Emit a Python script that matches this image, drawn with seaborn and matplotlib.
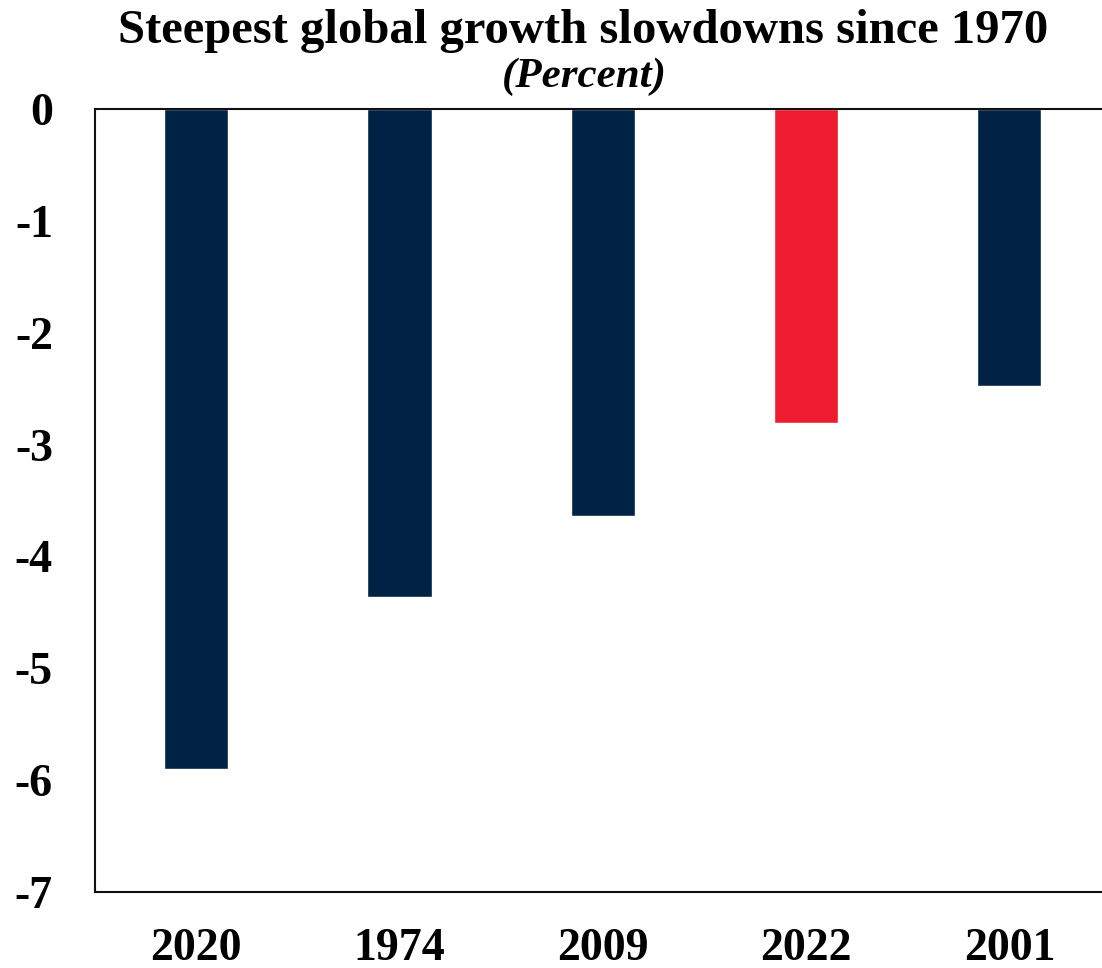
import matplotlib
matplotlib.use("Agg")
import matplotlib.pyplot as plt
import seaborn as sns
import pandas as pd

years = ["2020", "1974", "2009", "2022", "2001"]
slowdown = [-5.90, -4.36, -3.64, -2.81, -2.48]
bar_colors = ["#002244", "#002244", "#002244", "#ED1C2E", "#002244"]
y_ticks = [0, -1, -2, -3, -4, -5, -6, -7]

sns.set_theme(style="white")
plt.rcParams["font.family"] = ["Liberation Serif", "DejaVu Serif"]
plt.rcParams["text.color"] = "black"
plt.rcParams["xtick.color"] = "black"
plt.rcParams["ytick.color"] = "black"

df = pd.DataFrame({"year": years, "value": slowdown})

fig = plt.figure(figsize=(11.02, 9.68), dpi=100)
ax = fig.add_axes([0.0858, 0.0785, 0.9224, 0.8089])

sns.barplot(data=df, x="year", y="value", hue="year", palette=bar_colors,
            order=years, hue_order=years, width=0.315, legend=False,
            saturation=1, ax=ax)

ax.set_xlim(-0.5, 4.5)
ax.set_ylim(-7, 0)
ax.set_yticks(y_ticks)
ax.set_yticklabels([f"{t:d}" for t in y_ticks])
ax.set_xlabel("")
ax.set_ylabel("")

for side in ["left", "bottom", "top"]:
    ax.spines[side].set_visible(True)
    ax.spines[side].set_color("#111111")
    ax.spines[side].set_linewidth(1.5)
ax.spines["right"].set_visible(False)

ax.tick_params(axis="y", length=0, pad=30, labelsize=33, labelcolor="black")
ax.tick_params(axis="x", length=0, pad=26, labelsize=33, labelcolor="black")
for lbl in ax.get_xticklabels() + ax.get_yticklabels():
    lbl.set_fontweight("bold")

fig.text(0.529, 0.9556, "Steepest global growth slowdowns since 1970",
         ha="center", va="baseline", fontsize=35, fontweight="bold",
         color="black")
fig.text(0.530, 0.910, "(Percent)", ha="center", va="baseline",
         fontsize=31, fontweight="bold", fontstyle="italic", color="black")

fig.savefig("out.png", dpi=100)
